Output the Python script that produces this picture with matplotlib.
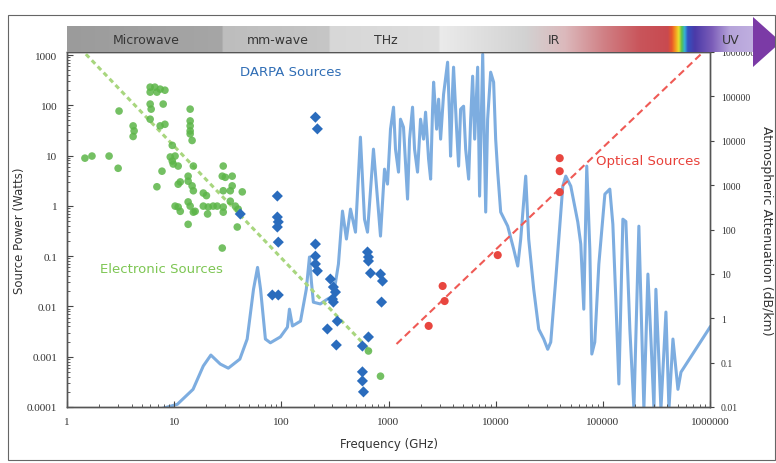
import numpy as np
import matplotlib
matplotlib.use("Agg")
import matplotlib.pyplot as plt
from matplotlib.ticker import FixedLocator, FixedFormatter, LogLocator, NullLocator, NullFormatter
from matplotlib.patches import Rectangle, Polygon
from matplotlib.colors import to_rgb

# ---------------- data ----------------
x_ticks = [1, 10, 100, 1000, 10000, 100000, 1000000]
x_tick_labels = ["1", "10", "100", "1000", "10000", "100000", "1000000"]
power_ticks = [1e-4, 1e-3, 1e-2, 1e-1, 1, 10, 100, 1000]
power_tick_labels = ["0.0001", "0.001", "0.01", "0.1", "1", "10", "100", "1000"]
atten_ticks = [0.01, 0.1, 1, 10, 100, 1000, 10000, 100000, 1000000]
atten_tick_labels = ["0.01", "0.1", "1", "10", "100", "1000", "10000", "100000", "1000000"]

band_names = ["Microwave", "mm-wave", "THz", "IR", "UV"]

# atmospheric attenuation curve (GHz, dB/km)
atten_freq = [4, 7.4, 10.7, 15, 18.7, 22, 26.9, 32, 41, 48, 55, 60, 64, 71, 79, 98,
              114, 119, 127, 151, 171, 183, 191, 199, 231, 269, 306, 341, 372, 405,
              442, 492, 547, 597, 637, 724,
              842, 918, 979, 1044, 1114, 1162, 1240, 1294, 1380, 1442, 1506, 1572,
              1676, 1750, 1866, 1991, 2124, 2218, 2366, 2472, 2578, 2636, 2812, 2934,
              3064, 3266, 3560, 3717, 3795, 3963, 4046, 4321, 4510, 4710, 5020, 5248,
              5598, 5843, 6097, 6368, 6792, 7079, 7568, 8072, 8414, 8979, 9572, 10000,
              10450, 11140, 12950, 14730, 16070,
              17130, 19070, 20330, 22650, 25220, 28100, 30600, 32660, 36370, 38810,
              42300, 45100, 50230, 58400, 62260, 66400, 70800, 75600, 78900, 84100,
              91800, 104500, 116200, 124000, 132200, 141200, 153800, 164000, 178700,
              195000, 216900, 241600, 263400, 281000, 300000, 312700, 348500, 388000,
              414000, 451000, 502000, 536000, 1000000]
atten_db = [0.007, 0.009, 0.0115, 0.025, 0.084, 0.148, 0.093, 0.075, 0.12, 0.34, 4.5, 14,
            4.5, 0.34, 0.28, 0.38, 0.63, 1.6, 0.67, 0.86, 4.5, 24, 6.5, 2.3, 2.1, 2.7,
            3.2, 16.6, 260, 61, 288, 87, 12050, 171, 87, 6470,
            71, 2291, 1054, 18240, 57100, 6470, 1963, 30600, 20240, 2972, 484, 10870,
            57100, 6470, 1963, 30600, 10870, 44060, 3855, 1365, 51500, 209000, 18240,
            86500, 10870, 112000, 589000, 30600, 4500, 145000, 455000, 18240, 2680,
            51500, 60100, 6470, 1365, 30600, 285000, 10870, 455000, 565, 891000, 247,
            30600, 351000, 209000, 10870,
            1963, 247, 119, 36, 15,
            61, 1596, 61, 4.5, 0.57, 0.34, 0.20, 0.29, 7.6, 61, 949,
            1596, 949, 147, 47, 1.6, 2680, 36, 0.156, 0.29, 16.6, 627, 813, 132, 2.7,
            0.033, 171, 151, 0.57, 0.009, 119, 0.009, 9.9, 0.34, 0.009, 4.5, 0.009,
            1.38, 0.009, 0.34, 0.025, 0.061, 0.63]

# electronic sources (GHz, Watts)
electronic_sources = [
    (1.47, 8.9), (1.71, 9.8), (2.47, 9.8), (3.0, 5.6), (3.06, 77), (4.14, 39), (4.23, 31),
    (4.14, 24), (5.97, 230), (6.6, 230), (7.4, 210), (8.2, 200), (5.97, 183), (6.9, 183),
    (5.97, 106), (6.1, 84), (7.9, 106), (5.97, 53), (7.4, 39), (8.2, 42), (6.9, 2.4),
    (7.7, 4.9), (9.6, 16), (9.2, 9.4), (9.6, 7.8), (10.2, 9.8), (9.8, 6.8), (10.9, 6.2),
    (14.1, 84), (14.1, 49), (14.1, 39), (14.1, 31), (14.1, 27), (14.7, 20), (13.5, 3.9),
    (13.5, 3.1), (14.7, 2.5), (15.1, 2.0), (10.9, 2.7), (11.4, 3.0), (15.1, 6.2),
    (13.5, 0.43), (28.7, 6.2), (28.1, 3.9), (30.0, 3.7), (34.8, 3.9), (28.7, 2.0),
    (33.4, 2.0), (43.2, 1.9), (34.8, 2.5), (33.4, 1.24), (37.2, 0.99), (39.6, 0.86),
    (38.8, 0.38), (28.1, 0.145), (650, 0.0013), (842, 0.00041),
    (10.2, 0.99), (10.9, 0.95), (11.4, 0.78), (13.5, 1.2), (14.1, 0.99), (15.1, 0.75),
    (15.7, 0.78), (18.7, 0.99), (20.8, 0.95), (20.5, 0.69), (23.1, 0.99), (25.2, 0.99),
    (28.7, 0.95), (28.7, 0.75), (18.7, 1.8), (20.0, 1.6)]

# DARPA sources (GHz, Watts)
darpa_sources = [
    (208, 58), (217, 34), (91.8, 1.57), (41.4, 0.69), (91.8, 0.60), (93.7, 0.48),
    (91.8, 0.38), (93.7, 0.19), (82.4, 0.0169), (93.7, 0.0169), (208, 0.10),
    (208, 0.070), (217, 0.051), (208, 0.174), (287, 0.035), (306, 0.0243),
    (320, 0.0193), (300, 0.0140), (306, 0.0122), (333, 0.0051), (269, 0.00356),
    (326, 0.00171), (637, 0.121), (650, 0.096), (650, 0.080), (679, 0.046),
    (842, 0.044), (879, 0.032), (861, 0.0122), (650, 0.00247), (571, 0.00163),
    (571, 0.00050), (571, 0.00033), (584, 0.00020)]

# optical sources (GHz, Watts)
optical_sources = [(39600, 8.9), (39600, 4.9), (39600, 1.88), (10450, 0.105),
                   (3200, 0.0255), (3340, 0.0128), (2370, 0.0041)]

electronic_trend_freq = [1.5, 679]
electronic_trend_watts = [1043, 0.0013]
optical_trend_freq = [1188, 824000]
optical_trend_watts = [0.00179, 1043]

# ---------------- figure ----------------
W, H = 776, 464
fig = plt.figure(figsize=(W / 100, H / 100), dpi=100)
fig.patch.set_facecolor("white")


def frac(x0, y0, x1, y1):
    return [x0 / W, 1 - y1 / H, (x1 - x0) / W, (y1 - y0) / H]


ax = fig.add_axes(frac(67, 53, 710, 408))
ax.set_xscale("log")
ax.set_yscale("log")
ax2 = ax.twinx()
ax2.set_yscale("log")
ax.set_zorder(ax2.get_zorder() + 1)
ax.patch.set_visible(False)

ax2.plot(atten_freq, atten_db, color="#7dade0", lw=2.2, solid_joinstyle="round")
ax2.set_ylim(0.01, 1e6)

ax.set_xlim(1, 1e6)
ax.set_ylim(1e-4, 1150)

ax.plot(electronic_trend_freq, electronic_trend_watts, color="#a8d67e", lw=2.2,
        ls=(0, (1.6, 1.2)), zorder=2)
ax.plot(optical_trend_freq, optical_trend_watts, color="#ef5a55", lw=1.5,
        ls=(0, (3.5, 2)), zorder=2)

ef, ew = zip(*electronic_sources)
ax.scatter(ef, ew, s=30, c="#5cb548", alpha=0.85, edgecolors="none", zorder=3)
df, dw = zip(*darpa_sources)
ax.scatter(df, dw, s=32, marker="D", c="#2a6cbd", edgecolors="none", zorder=4)
of, ow = zip(*optical_sources)
ax.scatter(of, ow, s=34, c="#e8463f", edgecolors="none", zorder=4)

ax.text(0.269, 0.946, "DARPA Sources", transform=ax.transAxes, color="#2f6db5",
        fontsize=9.5, ha="left", va="center")
ax.text(0.051, 0.389, "Electronic Sources", transform=ax.transAxes, color="#7dc653",
        fontsize=9.5, ha="left", va="center")
ax.text(0.823, 0.693, "Optical Sources", transform=ax.transAxes, color="#e8413a",
        fontsize=9.5, ha="left", va="center")

# ticks
ax.xaxis.set_major_locator(FixedLocator(x_ticks))
ax.xaxis.set_major_formatter(FixedFormatter(x_tick_labels))
ax.xaxis.set_minor_locator(LogLocator(base=10, subs=np.arange(2, 10)))
ax.xaxis.set_minor_formatter(NullFormatter())
ax.yaxis.set_major_locator(FixedLocator(power_ticks))
ax.yaxis.set_major_formatter(FixedFormatter(power_tick_labels))
ax.yaxis.set_minor_locator(LogLocator(base=10, subs=np.arange(2, 10)))
ax.yaxis.set_minor_formatter(NullFormatter())
ax.tick_params(axis="both", which="both", direction="in", top=False, right=False,
               colors="#444", labelcolor="#333", labelsize=8,
               labelfontfamily="Liberation Serif")
ax.tick_params(axis="both", which="major", length=4, width=0.8, pad=7)
ax.tick_params(axis="both", which="minor", length=2.5, width=0.6)

ax2.yaxis.set_major_locator(FixedLocator(atten_ticks))
ax2.yaxis.set_major_formatter(FixedFormatter(atten_tick_labels))
ax2.yaxis.set_minor_locator(NullLocator())
ax2.tick_params(axis="y", which="major", direction="out", length=3, width=0.8,
                colors="#444", labelcolor="#333", labelsize=7,
                labelfontfamily="Liberation Serif", pad=5)

for a in (ax, ax2):
    for s in a.spines.values():
        s.set_color("#555")
        s.set_linewidth(1.0)

ax.set_xlabel("Frequency (GHz)", fontsize=8.5, color="#333", labelpad=8)
ax.set_ylabel("Source Power (Watts)", fontsize=8.5, color="#333", labelpad=1)
ax2.set_ylabel("Atmospheric Attenuation (dB/km)", fontsize=9, color="#333",
               rotation=270, labelpad=13)

# ---------------- spectrum band overlay ----------------
ov = fig.add_axes([0, 0, 1, 1], zorder=10)
ov.set_axis_off()

stops = [
    (67, "#9b9b9b"), (222, "#a6a6a6"), (223, "#bdbdbd"), (329, "#c6c6c6"),
    (330, "#d7d7d7"), (439, "#dedede"), (440, "#ebebeb"), (525, "#d2d2d2"),
    (565, "#dcb9bc"), (605, "#d07f84"), (640, "#c9555b"), (668, "#c84a50"),
    (672, "#e8552a"), (676, "#f4a020"), (679, "#e8e030"), (682, "#55c050"),
    (685, "#35b0d8"), (688, "#3452c0"), (695, "#4b3aa8"), (712, "#7a5cb8"),
    (730, "#b6a4da"), (754, "#c0afe0"),
]
sx = np.array([s[0] for s in stops], dtype=float)
sc = np.array([to_rgb(s[1]) for s in stops])
xs = np.arange(67, 754.5, 0.5)
img = np.stack([np.interp(xs, sx, sc[:, k]) for k in range(3)], axis=-1)[None, :, :]
ov.imshow(img, extent=(67, 754, 53, 27), aspect="auto", interpolation="bilinear")
ov.add_patch(Polygon([(753, 18), (781, 43), (753, 68)], closed=True,
                     facecolor="#7b3aa6", edgecolor="none"))
ov.add_patch(Rectangle((8, 16), 767, 445, fill=False, edgecolor="#666", lw=0.8))

band_x = [146, 278, 386, 554, 731]
for name, bx in zip(band_names, band_x):
    ov.text(bx, 41, name, ha="center", va="center", fontsize=9, color="#363636")

ov.set_xlim(0, W)
ov.set_ylim(H, 0)

fig.savefig("out.png", dpi=100)
